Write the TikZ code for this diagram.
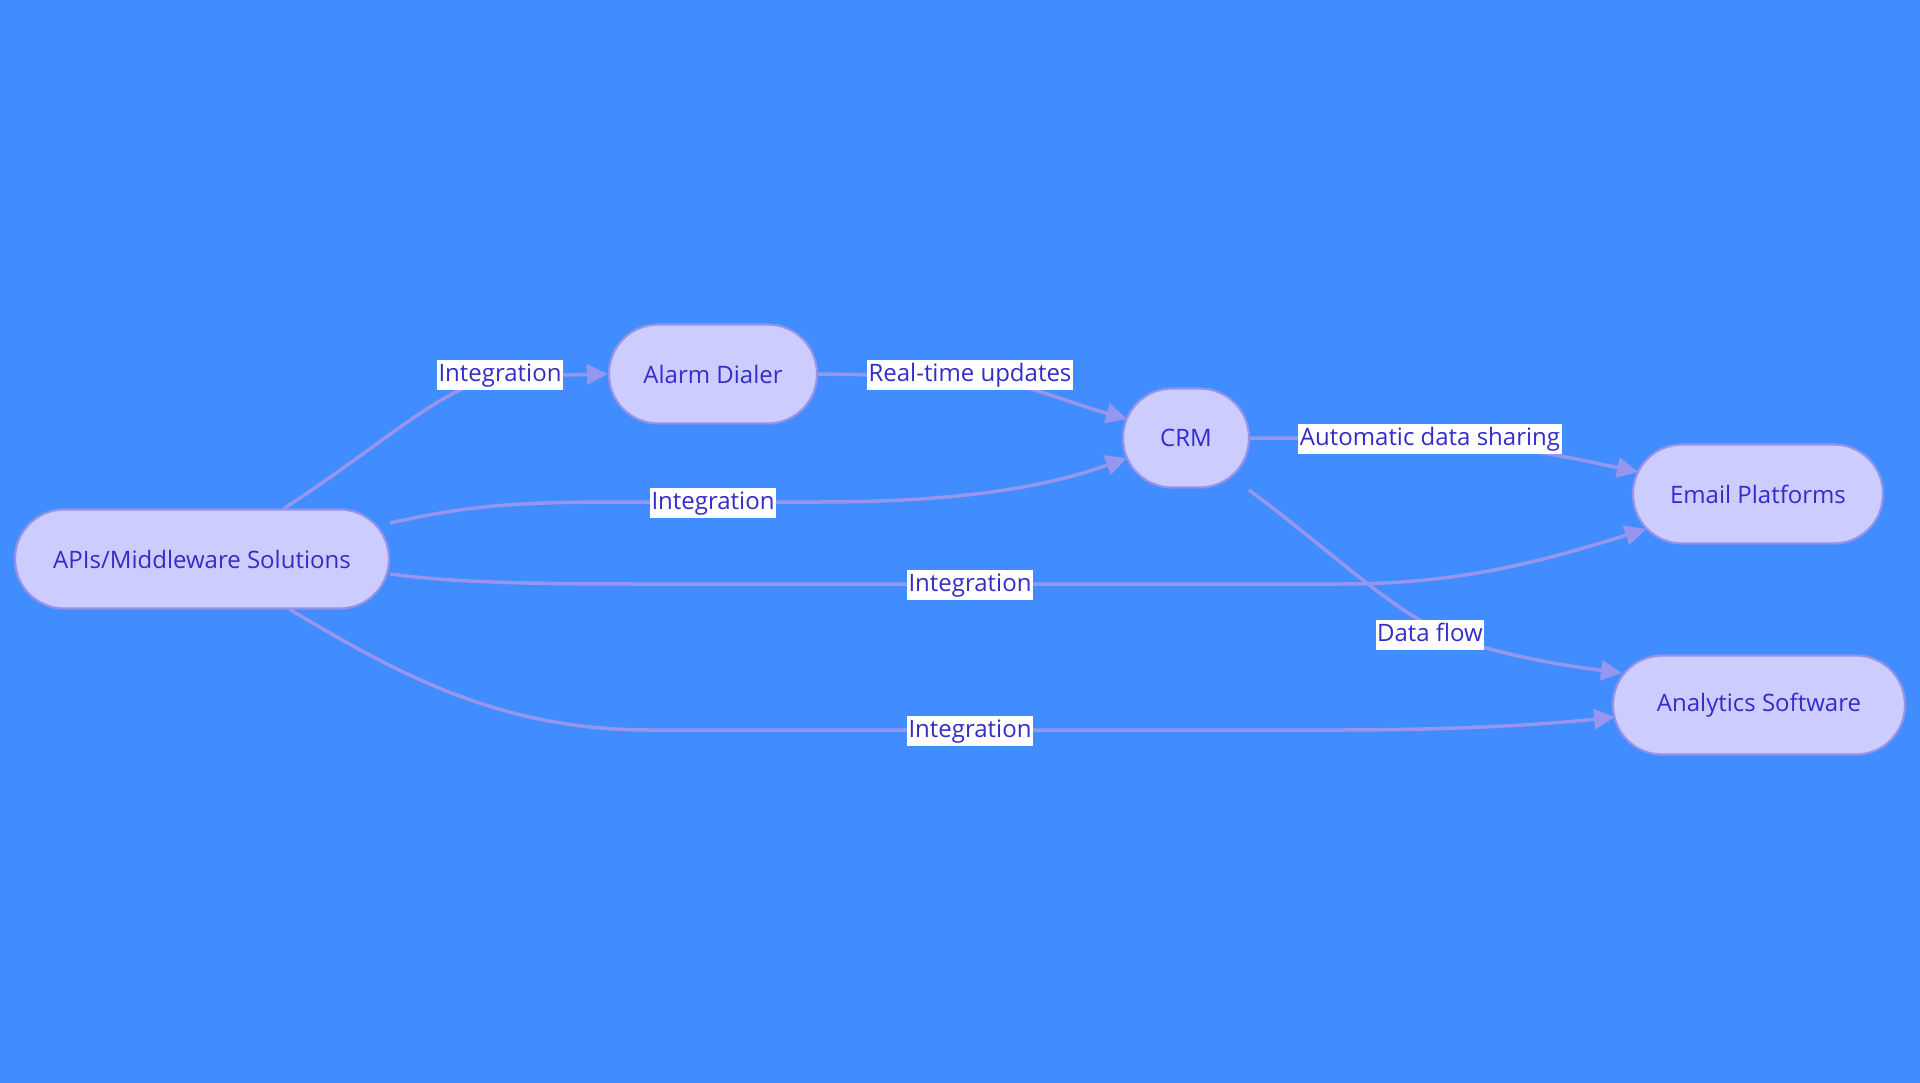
\documentclass[tikz,border=0pt]{standalone}
\usepackage{fontspec}
\setmainfont{Open Sans}
\usetikzlibrary{arrows.meta,calc}
\definecolor{bg}{RGB}{65,140,255}
\definecolor{nodefill}{RGB}{204,204,255}
\definecolor{nodeline}{RGB}{147,147,232}
\definecolor{edgecol}{RGB}{150,150,238}
\definecolor{txt}{RGB}{51,45,200}
\tikzset{
  box/.style={draw=nodeline, line width=2.2pt, fill=nodefill, rounded corners=49pt,
    minimum height=99pt, text=txt, font=\fontsize{24}{28}\selectfont, inner sep=0pt},
  edge/.style={draw=edgecol, line width=3.5pt, -{Triangle[length=21pt,width=20pt]}},
  lab/.style={fill=white, text=txt, font=\fontsize{24}{28}\selectfont, inner sep=1.5pt,
    text height=20pt, text depth=7pt}
}
\begin{document}
\begin{tikzpicture}[x=1pt,y=-1pt]
\fill[bg] (0,0) rectangle (1920,1083);
\useasboundingbox (0,0) rectangle (1920,1083);
% nodes
\node[box, minimum width=374pt] (api) at (202,559) {APIs/Middleware Solutions};
\node[box, minimum width=208pt] (ad) at (713,374) {Alarm Dialer};
\node[box, minimum width=126pt] (crm) at (1186,438) {CRM};
\node[box, minimum width=250pt] (em) at (1758,494) {Email Platforms};
\node[box, minimum width=292pt] (an) at (1759,705) {Analytics Software};
% edges
\draw[edge] ($(api.north)+(82,0)$) .. controls (390,440) and (450,378) .. (510,376) -- (ad.west);
\draw[edge] (ad.east) -- (960,376) .. controls (1010,377) and (1060,400) .. ($(crm.center)+(-59,-19)$);
\draw[edge] ($(api.east)+(0,-36)$) .. controls (470,505) and (520,502) .. (620,502) -- (820,502) .. controls (980,502) and (1060,482) .. ($(crm.center)+(-59,20)$);
\draw[edge] (crm.east) -- (1400,438) .. controls (1480,440) and (1560,455) .. ($(em.center)+(-120,-22)$);
\draw[edge] ($(api.east)+(0,15)$) .. controls (450,582) and (520,584) .. (640,584) -- (1340,584) .. controls (1460,584) and (1540,562) .. ($(em.center)+(-112,35)$);
\draw[edge] ($(crm.center)+(63,52)$) .. controls (1330,550) and (1390,610) .. (1450,636) .. controls (1500,655) and (1560,665) .. ($(an.center)+(-137,-32)$);
\draw[edge] ($(api.south)+(88,0)$) .. controls (400,675) and (500,730) .. (650,730) -- (1340,730) .. controls (1450,730) and (1540,725) .. ($(an.center)+(-144,12)$);
% labels
\node[lab] (l1) at (500,375) {Integration};
\node[lab] (l2) at (970,375) {Real-time updates};
\node[lab] (l3) at (713,503) {Integration};
\node[lab] (l4) at (1430,439) {Automatic data sharing};
\node[lab] (l5) at (970,585) {Integration};
\node[lab] (l6) at (1430,635) {Data flow};
\node[lab] (l7) at (970,731) {Integration};
\end{tikzpicture}
\end{document}
